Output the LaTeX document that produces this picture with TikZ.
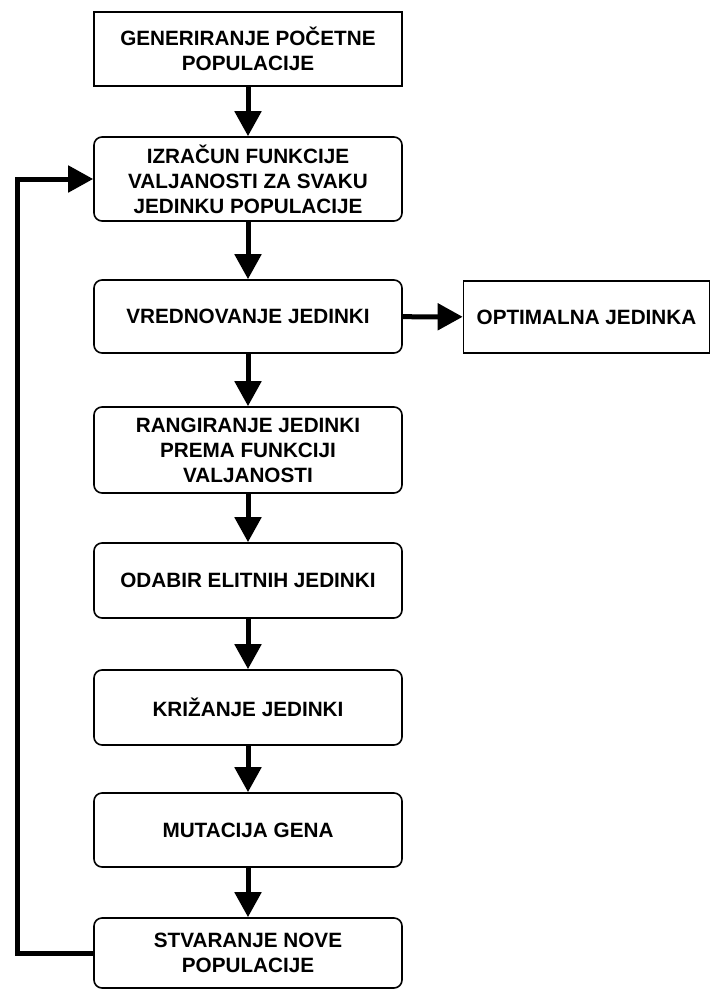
\documentclass[tikz,border=0pt]{standalone}
\usepackage{fontspec}
\setmainfont{Liberation Sans}
\usetikzlibrary{arrows.meta}
\begin{document}
\begin{tikzpicture}[x=1pt,y=-1pt,
  box/.style={draw=black, line width=1.6pt, align=center, inner sep=0pt,
    font=\fontsize{20.7}{25}\selectfont\bfseries},
  rbox/.style={box, rounded corners=8pt},
  arr/.style={line width=5pt, -{Triangle[length=25pt,width=26pt]}}]
\useasboundingbox (0,0) rectangle (711,989);
\node[box, minimum width=308pt, minimum height=74pt] (b1) at (248,49) {GENERIRANJE POČETNE\\POPULACIJE};
\node[rbox, minimum width=308pt, minimum height=84pt] (b2) at (248,179) {IZRAČUN FUNKCIJE\\VALJANOSTI ZA SVAKU\\JEDINKU POPULACIJE};
\node[rbox, minimum width=308pt, minimum height=73pt] (b3) at (248,316.5) {VREDNOVANJE JEDINKI};
\node[box, minimum width=246pt, minimum height=72pt] (b4) at (586.5,317) {OPTIMALNA JEDINKA};
\node[rbox, minimum width=308pt, minimum height=86pt] (b5) at (248,450) {RANGIRANJE JEDINKI\\PREMA FUNKCIJI\\VALJANOSTI};
\node[rbox, minimum width=308pt, minimum height=75pt] (b6) at (248,580.5) {ODABIR ELITNIH JEDINKI};
\node[rbox, minimum width=308pt, minimum height=75pt] (b7) at (248,707.5) {KRIŽANJE JEDINKI};
\node[rbox, minimum width=308pt, minimum height=74pt] (b8) at (248,830) {MUTACIJA GENA};
\node[rbox, minimum width=308pt, minimum height=70pt] (b9) at (248,953) {STVARANJE NOVE\\POPULACIJE};
\draw[arr] (b1) -- (b2);
\draw[arr] (b2) -- (b3);
\draw[arr] (b3) -- (b4);
\draw[arr] (b3) -- (b5);
\draw[arr] (b5) -- (b6);
\draw[arr] (b6) -- (b7);
\draw[arr] (b7) -- (b8);
\draw[arr] (b8) -- (b9);
\coordinate (lp) at (17,953);
\draw[arr] (b9.west) -- (lp) |- (b2.west);
\end{tikzpicture}
\end{document}
